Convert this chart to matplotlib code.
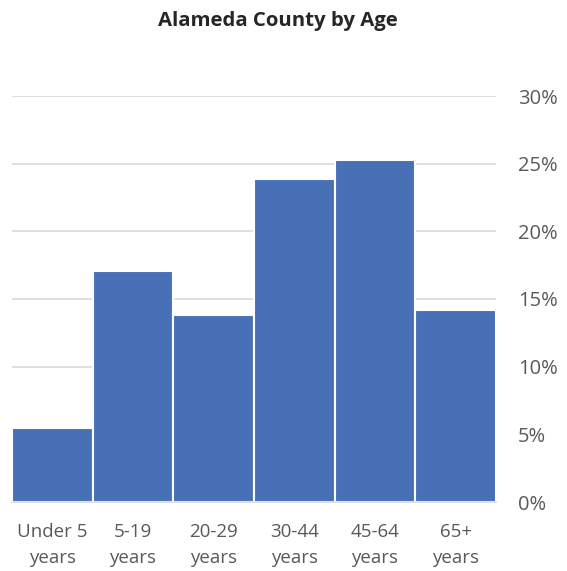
import matplotlib
matplotlib.use("Agg")
import matplotlib.pyplot as plt
from matplotlib.ticker import PercentFormatter

categories = ["Under 5\nyears", "5-19\nyears", "20-29\nyears", "30-44\nyears", "45-64\nyears", "65+\nyears"]
values = [5.5, 17.1, 13.8, 23.9, 25.3, 14.2]
yticks = [0, 5, 10, 15, 20, 25, 30]

plt.rcParams['font.family'] = ['Open Sans', 'DejaVu Sans']

fig = plt.figure(figsize=(5.67, 5.71), dpi=100)
ax = fig.add_axes([12/567, 69/571, 484/567, 406/571])

x = list(range(len(categories)))
ax.bar(x, values, width=1.0, color="#4770B6", edgecolor="white", linewidth=1.5, zorder=3)
ax.set_xlim(-0.5, len(categories) - 0.5)
ax.set_ylim(0, 30)
ax.set_yticks(yticks)
ax.yaxis.set_major_formatter(PercentFormatter(decimals=0))
ax.yaxis.tick_right()
ax.grid(axis="y", color="#d9d9d9", linewidth=1.2, zorder=0)
for s in ["top", "left", "right"]:
    ax.spines[s].set_visible(False)
ax.spines["bottom"].set_color("#d9d9d9")
ax.spines["bottom"].set_linewidth(1.2)
ax.spines["bottom"].set_zorder(4)
ax.set_xticks(x)
ax.set_xticklabels(categories, linespacing=1.6)
ax.tick_params(axis="x", length=0, pad=15, labelsize=13.5, labelcolor="#595959")
ax.tick_params(axis="y", length=0, pad=16, labelsize=14.5, labelcolor="#595959")

fig.text(278/567, 1 - 21/571, "Alameda County by Age", ha="center", va="center",
         fontsize=14.7, fontweight="bold", color="#262626")

fig.savefig("out.png", dpi=100)
